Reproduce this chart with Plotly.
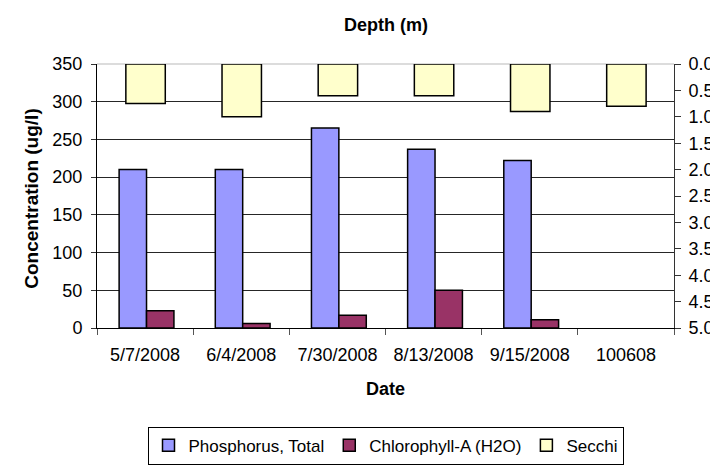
import plotly.graph_objects as go

dates = ["5/7/2008", "6/4/2008", "7/30/2008", "8/13/2008", "9/15/2008", "100608"]
phosphorus = [210, 210, 265, 237, 222, None]
chlorophyll = [23, 6, 17, 50, 11, None]
secchi = [0.75, 1.0, 0.6, 0.6, 0.9, 0.8]

left_ticks = [0, 50, 100, 150, 200, 250, 300, 350]
right_ticks = [0.0, 0.5, 1.0, 1.5, 2.0, 2.5, 3.0, 3.5, 4.0, 4.5, 5.0]

FONT = "Liberation Sans, Arial, sans-serif"

fig = go.Figure()
fig.add_trace(go.Bar(
    x=dates, y=phosphorus, name="Phosphorus, Total",
    marker=dict(color="#9999FF", line=dict(color="black", width=1.5)),
    width=0.285, offset=-0.27, yaxis="y"))
fig.add_trace(go.Bar(
    x=dates, y=chlorophyll, name="Chlorophyll-A (H2O)",
    marker=dict(color="#993366", line=dict(color="black", width=1.5)),
    width=0.285, offset=0.015, yaxis="y"))
fig.add_trace(go.Bar(
    x=dates, y=secchi, name="Secchi",
    marker=dict(color="#FFFFCC", line=dict(color="black", width=1.5)),
    width=0.41, offset=-0.2, yaxis="y2"))

fig.update_layout(
    width=718, height=469,
    margin=dict(l=89, r=42, t=56, b=135),
    paper_bgcolor="white", plot_bgcolor="white",
    font=dict(family=FONT, size=18, color="black"),
    barmode="group",
    showlegend=True,
    legend=dict(orientation="h", x=0.5, xanchor="center", y=(334 - 438) / 278, yanchor="top",
                bordercolor="black", borderwidth=1, bgcolor="white",
                font=dict(size=17), itemwidth=30, tracegroupgap=0),
    xaxis=dict(type="category", showline=True, linecolor="black", linewidth=1,
               ticks="outside", ticklen=6, tickcolor="#555", tickson="boundaries",
               showgrid=False, tickfont=dict(size=18), ticklabelstandoff=10),
    yaxis=dict(range=[0, 350], tickvals=left_ticks, showline=True, linecolor="black",
               linewidth=1, ticks="outside", ticklen=5, tickcolor="#333",
               showgrid=True, gridcolor="#262626", gridwidth=1,
               tickfont=dict(size=18), zeroline=False, ticklabelstandoff=5),
    yaxis2=dict(range=[5, 0], tickvals=right_ticks, ticktext=[f"{v:.1f}" for v in right_ticks],
                overlaying="y", side="right", showline=True, linecolor="#333",
                linewidth=1, ticks="outside", ticklen=6, tickcolor="#333",
                showgrid=False, zeroline=False, tickfont=dict(size=18), ticklabelstandoff=4),
    shapes=[dict(type="line", xref="paper", yref="paper", x0=0, x1=1, y0=1, y1=1,
                 line=dict(color="#dcdcdc", width=2), layer="between")],
    annotations=[
        dict(text="<b>Depth (m)</b>", xref="paper", yref="paper", x=0.5, y=(334 - 15) / 278,
             showarrow=False, font=dict(size=18), xanchor="center", yanchor="middle"),
        dict(text="<b>Concentration (ug/l)</b>", xref="paper", yref="paper",
             x=(23 - 89) / 587, y=0.49, textangle=-90, showarrow=False,
             font=dict(size=19), xanchor="center", yanchor="middle"),
        dict(text="<b>Date</b>", xref="paper", yref="paper", x=0.5, y=(334 - 398) / 278,
             showarrow=False, font=dict(size=18), xanchor="center", yanchor="middle"),
    ],
)

fig.write_html("out.html")
